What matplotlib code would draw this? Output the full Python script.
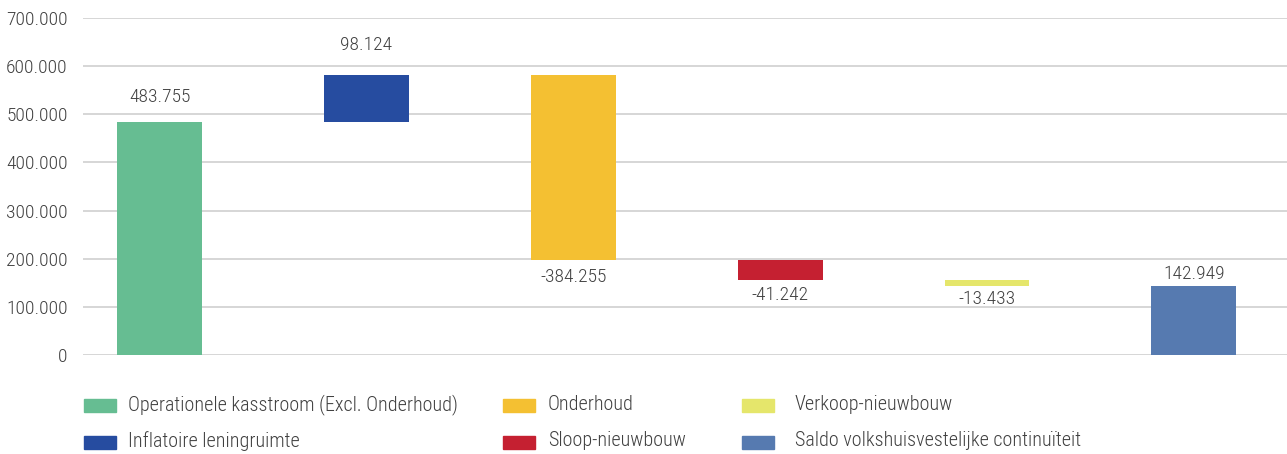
import matplotlib
matplotlib.use("Agg")
import matplotlib.pyplot as plt
from matplotlib import font_manager
from matplotlib.patches import Rectangle

# Waterfall data (x 1 000)
categories = [
    "Operationele kasstroom (Excl. Onderhoud)",
    "Inflatoire leningruimte",
    "Onderhoud",
    "Sloop-nieuwbouw",
    "Verkoop-nieuwbouw",
    "Saldo volkshuisvestelijke continuïteit",
]
values = [483755, 98124, -384255, -41242, -13433, 142949]
is_total = [False, False, False, False, False, True]
colors = ["#66BD92", "#264CA0", "#F4C032", "#C52031", "#E5E66B", "#567AB0"]
y_ticks = [0, 100000, 200000, 300000, 400000, 500000, 600000, 700000]

# pick a condensed sans face
names = {f.name for f in font_manager.fontManager.ttflist}
preferred = ["Roboto Condensed", "Barlow Semi Condensed", "Encode Sans Condensed",
             "Ropa Sans", "PT Sans Narrow", "Liberation Sans Narrow"]
family = next((n for n in preferred if n in names), "DejaVu Sans")
plt.rcParams["font.family"] = [family, "DejaVu Sans"]
plt.rcParams["font.weight"] = "light"

TXT = "#404040"

def fmt(v):
    s = f"{abs(v):,}".replace(",", ".")
    return ("-" if v < 0 else "") + s

fig = plt.figure(figsize=(12.87, 4.54), dpi=100)
ax = fig.add_axes([0.0645, 0.2181, 0.9355, 0.7423])

# cumulative bottoms
bottoms, heights = [], []
running = 0
for v, tot in zip(values, is_total):
    if tot:
        bottoms.append(0)
        heights.append(v)
        running = v
    else:
        if v >= 0:
            bottoms.append(running)
            heights.append(v)
        else:
            bottoms.append(running + v)
            heights.append(-v)
        running += v

x = list(range(len(values)))
ax.bar(x, heights, bottom=bottoms, width=0.41, color=colors, zorder=3)

label_offsets = [18, 21.5, -12, -11, -9.5, 9]
for xi, v, b, h, off in zip(x, values, bottoms, heights, label_offsets):
    y = b + h if off > 0 else b
    ax.annotate(fmt(v), (xi, y), xytext=(0, off), textcoords="offset points",
                ha="center", va="center", fontsize=14, color=TXT)

ax.set_xlim(-0.37, 5.45)
ax.set_ylim(0, 700000)
ax.set_yticks(y_ticks)
ax.set_yticklabels([fmt(t) for t in y_ticks], fontsize=14, color=TXT)
ax.set_xticks([])
ax.yaxis.grid(True, color="#D0D0D0", linewidth=1.2, zorder=0)
ax.tick_params(axis="y", length=0, pad=11)
for s in ax.spines.values():
    s.set_visible(False)

# legend, three columns of two rows
patch_x = [84, 503, 742]
text_x = [128, 548, 795]
patch_y = [405.5, 442.5]
text_y = [405, 441]
W, H = 1287, 454
order = [(0, 0), (0, 1), (1, 0), (1, 1), (2, 0), (2, 1)]
for (c, r), name, col in zip(order, categories, colors):
    fig.patches.append(Rectangle((patch_x[c] / W, 1 - (patch_y[r] + 6.5) / H),
                                 32 / W, 13 / H,
                                 transform=fig.transFigure, color=col))
    fig.text(text_x[c] / W, 1 - text_y[r] / H, name, fontsize=14.5, color=TXT,
             va="center", ha="left")

fig.savefig("out.png", dpi=100)
